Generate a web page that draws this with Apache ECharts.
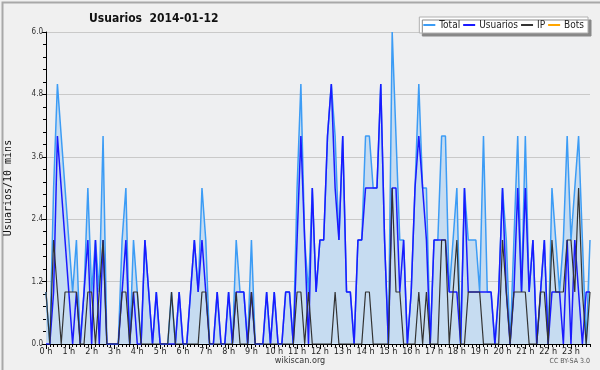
<!DOCTYPE html>
<html>
<head>
<meta charset="utf-8">
<script src="https://cdn.jsdelivr.net/npm/echarts@6/dist/echarts.min.js"></script>
<style>
  html, body { margin: 0; padding: 0; background: #f0f0f0; }
  #chart { width: 600px; height: 370px; }
</style>
</head>
<body>
<div id="chart"></div>
<script>
// hour labels on the x axis, one every 6 slots of 10 min
var hourLabels = ['0 h','1 h','2 h','3 h','4 h','5 h','6 h','7 h','8 h','9 h','10 h','11 h',
                  '12 h','13 h','14 h','15 h','16 h','17 h','18 h','19 h','20 h','21 h','22 h','23 h'];

// values per 10 min slot (144 slots)
var total = [1,0,3,5,4,3,2,1,2,0, 1,3,1,2,1,4,0,0,0,0,
             2,3,0,2,1,0,2,1,0,1, 0,0,0,1,0,1,0,0,1,2,
             1,3,2,0,0,1,0,0,1,0, 2,1,1,0,2,0,0,0,1,0,
             1,0,0,1,1,0,3,5,2,1, 3,1,2,2,4,5,4,2,4,1,
             1,0,2,2,4,4,3,3,5,2, 0,6,4,2,2,0,1,3,5,3,
             3,0,2,2,4,4,1,2,3,0, 3,2,2,2,1,4,1,1,0,1,
             3,2,0,2,4,1,4,1,2,0, 1,2,0,3,2,1,2,4,2,3,
             4,2,0,2];
var usuarios = [0,0,1,4,3,2,1,0,1,0, 1,2,0,2,0,2,0,0,0,0,
                1,2,0,1,0,0,2,1,0,1, 0,0,0,0,0,1,0,0,1,2,
                1,2,1,0,0,1,0,0,1,0, 1,1,1,0,1,0,0,0,1,0,
                1,0,0,1,1,0,2,4,2,0, 3,1,2,2,4,5,3,2,4,1,
                1,0,2,2,3,3,3,3,5,2, 0,3,3,1,2,0,1,3,4,3,
                2,0,2,2,2,2,1,1,1,0, 3,1,1,1,1,1,1,1,0,1,
                3,1,0,1,3,1,3,1,2,0, 1,2,0,1,1,1,0,2,0,2,
                1,0,1,1];
var ip = [1,0,2,1,0,1,1,1,1,0, 0,1,1,0,1,2,0,0,0,0,
          1,1,0,1,1,0,0,0,0,0, 0,0,0,1,0,0,0,0,0,0,
          0,1,1,0,0,0,0,0,0,0, 1,0,0,0,1,0,0,0,0,0,
          0,0,0,0,0,0,1,1,0,1, 0,0,0,0,0,0,1,0,0,0,
          0,0,0,0,1,1,0,0,0,0, 0,3,1,1,0,0,0,0,1,0,
          1,0,0,0,2,2,0,1,2,0, 0,1,1,1,1,0,0,0,0,0,
          2,1,0,1,1,1,1,0,0,0, 1,1,0,2,1,1,1,2,2,1,
          3,1,0,1];
var bots = [];

var categories = [];
for (var i = 0; i < total.length; i++) {
  categories.push(i % 6 === 0 ? hourLabels[i / 6] : '');
}

var font = 'DejaVu Sans Condensed, DejaVu Sans';
var chart = echarts.init(document.getElementById('chart'));

chart.setOption({
  backgroundColor: '#f0f0f0',
  animation: false,
  title: {
    text: 'Usuarios  2014-01-12',
    left: 84,
    top: 8,
    textStyle: { fontFamily: font, fontSize: 12, fontWeight: 'bold', color: '#111' }
  },
  legend: {
    right: 12,
    top: 17,
    padding: [3, 4, 3, 4],
    itemGap: 3,
    itemWidth: 12,
    itemHeight: 2,
    icon: 'rect',
    backgroundColor: '#ffffff',
    borderColor: '#b0b0b0',
    borderWidth: 1,
    shadowColor: '#888888',
    shadowOffsetX: 3,
    shadowOffsetY: 3,
    shadowBlur: 0,
    textStyle: { fontFamily: font, fontSize: 10, color: '#222', padding: [0, 0, 0, -1] },
    data: ['Total', 'Usuarios', 'IP', 'Bots']
  },
  grid: {
    left: 46, right: 10, top: 32, bottom: 26,
    outerBoundsMode: 'none',
    show: true, backgroundColor: '#eeeff1', borderWidth: 0
  },
  xAxis: [{
    type: 'category',
    boundaryGap: false,
    data: categories,
    axisLine: { lineStyle: { color: '#000', width: 1 } },
    axisTick: { interval: 0, length: 3, lineStyle: { color: '#000' } },
    axisLabel: { interval: 5, fontSize: 9, color: '#222', margin: 3, fontFamily: font },
    splitLine: { show: false }
  }, {
    // longer ticks on the hours
    type: 'category',
    position: 'bottom',
    boundaryGap: false,
    data: categories,
    axisLine: { show: false },
    axisTick: { interval: 5, length: 5, lineStyle: { color: '#000' } },
    axisLabel: { show: false },
    splitLine: { show: false }
  }],
  yAxis: {
    type: 'value',
    min: 0,
    max: 6,
    interval: 1.2,
    name: 'Usuarios/10 mins',
    nameLocation: 'middle',
    nameGap: 33,
    nameTextStyle: { fontFamily: 'DejaVu Sans Mono', fontSize: 10, color: '#111' },
    axisLine: { show: true, lineStyle: { color: '#000' } },
    axisTick: { show: true, length: 4, lineStyle: { color: '#000' } },
    minorTick: { show: true, splitNumber: 5, length: 3, lineStyle: { color: '#000' } },
    axisLabel: { fontSize: 8, color: '#333', margin: 3, fontFamily: font, formatter: function (v) { return v.toFixed(1); } },
    splitLine: { lineStyle: { color: '#c9c9c9', width: 1 } }
  },
  series: [
    {
      name: 'Total', type: 'line', data: total, symbol: 'none',
      lineStyle: { color: '#3c9cf5', width: 1.5 },
      itemStyle: { color: '#3c9cf5' },
      areaStyle: { color: '#c6dcf1', opacity: 1 }
    },
    {
      name: 'Usuarios', type: 'line', data: usuarios, symbol: 'none',
      lineStyle: { color: '#1a1aff', width: 1.5 },
      itemStyle: { color: '#1a1aff' }
    },
    {
      name: 'IP', type: 'line', data: ip, symbol: 'none',
      lineStyle: { color: '#333333', width: 1.2 },
      itemStyle: { color: '#333333' }
    },
    {
      name: 'Bots', type: 'line', data: bots, symbol: 'none',
      lineStyle: { color: '#ffa500', width: 1.5 },
      itemStyle: { color: '#ffa500' }
    }
  ],
  graphic: [
    { type: 'rect', left: 0, top: 0, shape: { width: 599, height: 369 }, style: { fill: 'none', stroke: '#a8a8a8', lineWidth: 2 }, silent: true },
    { type: 'text', left: 'center', top: 356, style: { text: 'wikiscan.org', fontSize: 9, fill: '#333', fontFamily: font } },
    { type: 'text', right: 10, top: 358, style: { text: 'CC BY-SA 3.0', fontSize: 7, fill: '#555', fontFamily: font } }
  ]
});
</script>
</body>
</html>
